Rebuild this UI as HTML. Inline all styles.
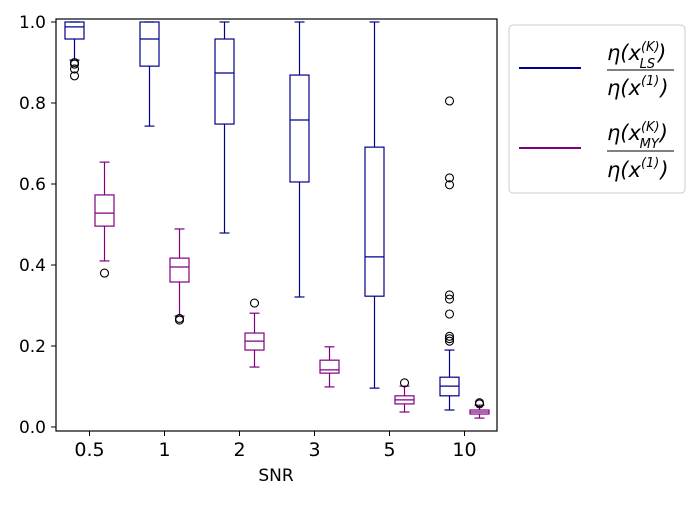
<!DOCTYPE html>
<html><head><meta charset="utf-8"><style>
body{margin:0;background:#fff}
svg text{font-family:"DejaVu Sans","Liberation Sans",sans-serif}
</style></head><body>
<svg id="chart" width="700" height="500" xmlns="http://www.w3.org/2000/svg">
<rect x="0" y="0" width="700" height="500" fill="#fff"/>
<g id="marks"></g>
<rect x="56" y="19" width="441" height="412" fill="none" stroke="#000" stroke-width="1.2"/>
<g id="axes"></g>
<text x="276" y="481" font-size="17" text-anchor="middle">SNR</text>
<g>
<rect x="509" y="25" width="176" height="168" rx="4" fill="#fff" stroke="#ccc" stroke-width="1"/>
<line x1="519" y1="68" x2="581" y2="68" stroke="#00008b" stroke-width="2"/>
<g font-style="italic">
<text x="607" y="60" font-size="21">η(x<tspan font-size="13" dy="-9">(K)</tspan><tspan font-size="13" dx="-20" dy="17">LS</tspan><tspan font-size="21" dx="3" dy="-8">)</tspan></text>
<line x1="607" y1="70" x2="674" y2="70" stroke="#000" stroke-width="1"/>
<text x="607" y="95" font-size="21">η(x<tspan font-size="13" dy="-10">(1)</tspan><tspan font-size="21" dx="1" dy="10">)</tspan></text>
</g>
<line x1="519" y1="148" x2="581" y2="148" stroke="#800080" stroke-width="2"/>
<g font-style="italic">
<text x="607" y="140" font-size="21">η(x<tspan font-size="13" dy="-9">(K)</tspan><tspan font-size="13" dx="-20" dy="17">MY</tspan><tspan font-size="21" dx="1" dy="-8">)</tspan></text>
<line x1="607" y1="151" x2="674" y2="151" stroke="#000" stroke-width="1"/>
<text x="607" y="177" font-size="21">η(x<tspan font-size="13" dy="-10">(1)</tspan><tspan font-size="21" dx="1" dy="10">)</tspan></text>
</g>
</g>
</svg>
<script>
const categories=["0.5","1","2","3","5","10"];
const yTicks=[0.0,0.2,0.4,0.6,0.8,1.0];
// [whiskerLow, q1, median, q3, whiskerHigh]
const lsStats=[[0.906,0.958,0.988,1.0,1.0],[0.743,0.891,0.958,1.0,1.0],[0.479,0.748,0.874,0.958,1.0],[0.321,0.605,0.758,0.869,1.0],[0.096,0.323,0.42,0.691,1.0],[0.042,0.077,0.101,0.123,0.19]];
const lsOutliers=[[0.9,0.896,0.884,0.867],[],[],[],[],[0.805,0.615,0.598,0.326,0.316,0.279,0.224,0.218,0.212]];
const myStats=[[0.41,0.496,0.528,0.573,0.654],[0.274,0.358,0.395,0.417,0.489],[0.148,0.19,0.212,0.232,0.281],[0.099,0.133,0.141,0.165,0.198],[0.037,0.057,0.067,0.077,0.101],[0.022,0.032,0.037,0.042,0.054]];
const myOutliers=[[0.38],[0.268,0.264],[0.306],[],[0.109],[0.06,0.057]];

const NS="http://www.w3.org/2000/svg";
const yScale=v=>427-405*v;
const xScale=i=>89.5+75*i;
function mk(tag,attrs,parent){const e=document.createElementNS(NS,tag);for(const k in attrs)e.setAttribute(k,attrs[k]);parent.appendChild(e);return e;}
const marks=document.getElementById('marks');
const axes=document.getElementById('axes');
function drawBox(i,stats,outs,color,off,name){
  const cx=xScale(i)+off,w=19;
  const g=mk('g',{},marks);
  
  
  const [lo,q1,md,q3,hi]=stats;
  const a={stroke:color,'stroke-width':1.2,fill:'none'};
  mk('line',Object.assign({x1:cx,x2:cx,y1:yScale(hi),y2:yScale(q3)},a),g);
  mk('line',Object.assign({x1:cx,x2:cx,y1:yScale(q1),y2:yScale(lo)},a),g);
  mk('line',Object.assign({x1:cx-5,x2:cx+5,y1:yScale(hi),y2:yScale(hi)},a),g);
  mk('line',Object.assign({x1:cx-5,x2:cx+5,y1:yScale(lo),y2:yScale(lo)},a),g);
  mk('rect',Object.assign({x:cx-w/2,y:yScale(q3),width:w,height:yScale(q1)-yScale(q3)},a),g);
  mk('line',Object.assign({x1:cx-w/2,x2:cx+w/2,y1:yScale(md),y2:yScale(md)},a),g);
  outs.forEach(v=>{
    const c=mk('circle',{cx:cx,cy:yScale(v),r:4,fill:'none',stroke:'#000','stroke-width':1.1},g);
    
    
  });
}
categories.forEach((c,i)=>{
  drawBox(i,lsStats[i],lsOutliers[i],'#00008b',-15,'ls');
  drawBox(i,myStats[i],myOutliers[i],'#800080',15,'my');
  const x=xScale(i);
  mk('line',{x1:x,x2:x,y1:431,y2:436,stroke:'#000','stroke-width':1},axes);
  const t=mk('text',{x:x,y:456,'font-size':19,'text-anchor':'middle'},axes);
  t.textContent=c;
  
  
});
yTicks.forEach(v=>{
  const y=yScale(v);
  mk('line',{x1:51,x2:56,y1:y,y2:y,stroke:'#000','stroke-width':1},axes);
  const t=mk('text',{x:46,y:y+6,'font-size':17,'text-anchor':'end'},axes);
  t.textContent=v.toFixed(1);
  
  
});
</script>
</body></html>
